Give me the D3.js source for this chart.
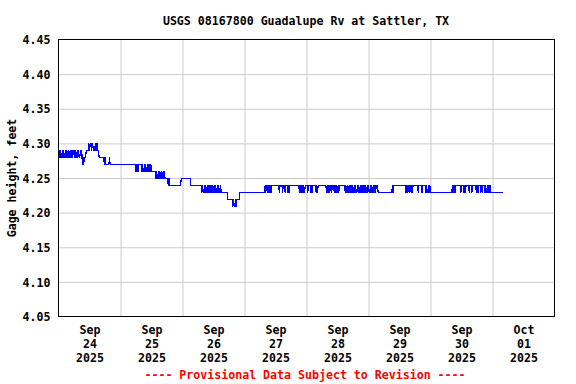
<!DOCTYPE html>
<html><head><meta charset="utf-8">
<script src="https://cdn.jsdelivr.net/npm/d3@7"></script>
<style>
body{margin:0;background:#fff}
svg{display:block}
text{font-family:"DejaVu Sans Mono","Liberation Mono",monospace;font-weight:bold;font-size:11.6px;fill:#000}
</style>
</head><body>
<svg id="chart" width="576" height="384"></svg>
<script>
// ---- text ----
const chartTitle = "USGS 08167800 Guadalupe Rv at Sattler, TX";
const yAxisTitle = "Gage height, feet";
const footerNote = "---- Provisional Data Subject to Revision ----";

// ---- axes ----
const yTickValues = [4.05, 4.10, 4.15, 4.20, 4.25, 4.30, 4.35, 4.40, 4.45];
const yDomain = [4.05, 4.45];
const dayMonths = ["Sep", "Sep", "Sep", "Sep", "Sep", "Sep", "Sep", "Oct"];
const dayNumbers = ["24", "25", "26", "27", "28", "29", "30", "01"];
const dayYears = ["2025", "2025", "2025", "2025", "2025", "2025", "2025", "2025"];
const dayStartsUTC = [[2025,8,24],[2025,8,25],[2025,8,26],[2025,8,27],[2025,8,28],[2025,8,29],[2025,8,30],[2025,9,1],[2025,9,2]];

// ---- series: 15-minute gage readings, run-length [level (ft), number of readings] ----
const readingStart = [2025, 8, 24, 0, 0];
const readingMinutes = 15;
const gageRuns = [
  [4.29,2],
  [4.28,1],[4.29,1],[4.28,2],[4.29,1],[4.28,1],[4.29,1],[4.28,2],[4.29,1],[4.28,1],[4.29,1],[4.28,2],[4.29,1],[4.28,1],[4.29,1],[4.28,2],[4.29,1],[4.28,1],
  [4.29,2],
  [4.28,1],[4.29,1],[4.28,2],[4.29,1],[4.28,1],[4.29,1],[4.28,2],[4.29,1],
  [4.29,2],
  [4.27,1],[4.28,1],[4.27,1],[4.28,3],[4.29,4],
  [4.30,1],[4.29,1],[4.30,2],[4.29,1],[4.30,2],[4.29,1],
  [4.29,2],
  [4.30,1],[4.29,1],[4.30,2],
  [4.29,2],[4.28,8],[4.27,1],[4.28,1],[4.27,6],[4.28,1],[4.27,40],
  [4.26,1],[4.27,2],[4.26,1],[4.27,5],
  [4.26,1],[4.27,1],[4.26,2],[4.27,1],[4.26,1],[4.27,1],[4.26,2],[4.27,1],[4.26,1],[4.27,1],[4.26,2],[4.27,1],[4.26,1],
  [4.26,6],
  [4.25,1],[4.26,1],[4.25,2],[4.26,1],[4.25,1],[4.26,1],[4.25,2],[4.26,1],[4.25,2],[4.26,1],
  [4.26,1],[4.25,5],[4.24,1],[4.25,1],[4.24,18],[4.25,15],[4.24,17],
  [4.23,1],[4.24,1],[4.23,2],[4.24,1],[4.23,1],[4.24,1],[4.23,2],[4.24,1],[4.23,1],[4.24,1],[4.23,2],[4.24,1],
  [4.23,1],[4.24,1],[4.23,2],[4.24,1],[4.23,1],[4.24,1],[4.23,2],[4.24,1],[4.23,1],[4.24,1],[4.23,2],[4.24,1],[4.23,1],
  [4.23,9],[4.22,8],
  [4.21,1],[4.22,1],[4.21,2],[4.22,1],[4.21,1],
  [4.22,5],[4.23,39],
  [4.24,1],[4.23,1],[4.24,2],[4.23,1],[4.24,1],[4.23,1],[4.24,2],[4.23,1],[4.24,1],
  [4.24,11],[4.23,1],[4.24,4],[4.23,1],[4.24,3],[4.23,1],[4.24,3],[4.23,1],[4.24,1],[4.23,1],[4.24,15],
  [4.23,1],[4.24,1],[4.23,2],[4.24,1],[4.23,1],[4.24,1],[4.23,2],[4.24,1],
  [4.24,3],[4.23,1],[4.24,4],[4.23,1],[4.24,1],[4.23,1],[4.24,5],[4.23,1],[4.24,1],[4.23,1],[4.24,13],
  [4.23,1],[4.24,1],[4.23,2],[4.24,1],[4.23,1],
  [4.24,2],[4.23,1],[4.24,3],
  [4.23,1],[4.24,1],[4.23,2],[4.24,1],[4.23,1],[4.24,1],[4.23,1],[4.24,1],
  [4.24,8],
  [4.23,1],[4.24,1],[4.23,2],[4.24,1],[4.23,1],[4.24,1],[4.23,2],[4.24,1],[4.23,1],[4.24,1],[4.23,2],[4.24,1],
  [4.23,1],[4.24,1],[4.23,2],[4.24,1],[4.23,1],[4.24,1],[4.23,2],[4.24,1],[4.23,1],[4.24,1],[4.23,2],[4.24,1],
  [4.23,1],[4.24,1],[4.23,2],[4.24,1],[4.23,1],[4.24,1],[4.23,2],[4.24,1],[4.23,1],[4.24,1],[4.23,2],[4.24,1],
  [4.23,1],[4.24,1],[4.23,1],
  [4.24,3],[4.23,22],
  [4.24,1],[4.23,1],[4.24,2],
  [4.24,17],[4.23,1],[4.24,2],[4.23,1],[4.24,1],[4.23,1],[4.24,2],[4.23,1],[4.24,1],[4.23,1],[4.24,8],[4.23,1],[4.24,5],[4.23,1],[4.24,5],
  [4.23,1],[4.24,1],[4.23,2],[4.24,1],[4.23,1],
  [4.24,1],[4.23,34],
  [4.24,1],[4.23,1],[4.24,2],[4.23,1],[4.24,1],
  [4.24,7],[4.23,1],[4.24,4],[4.23,1],[4.24,1],[4.23,1],[4.24,5],[4.23,1],[4.24,3],[4.23,1],[4.24,6],
  [4.23,1],[4.24,1],[4.23,2],[4.24,1],
  [4.24,2],[4.23,1],[4.24,1],[4.23,1],[4.24,3],
  [4.23,1],[4.24,1],[4.23,2],[4.24,1],[4.23,1],[4.24,1],[4.23,1],
  [4.24,1],[4.23,21]
];

// ---- build readings ----
const t0 = Date.UTC(...readingStart);
const readings = [];
let k = 0;
gageRuns.forEach(([lvl, n]) => {
  for (let i = 0; i < n; i++) {
    readings.push({t: new Date(t0 + k * readingMinutes * 60000), v: lvl});
    k++;
  }
});

// ---- layout ----
const plot = {left: 58.5, right: 554.5, top: 39.5, bottom: 316.5};
const svg = d3.select("#chart");
svg.append("rect").attr("width", 576).attr("height", 384).attr("fill", "#fff");

const dayStarts = dayStartsUTC.map(d => new Date(Date.UTC(...d)));
const x = d3.scaleUtc().domain([dayStarts[0], dayStarts[dayStarts.length - 1]]).range([plot.left, plot.right]);
const y = d3.scaleLinear().domain(yDomain).range([plot.bottom, plot.top]);

// grid
const g = svg.append("g");
g.append("g").attr("transform", `translate(0,${plot.bottom})`)
  .call(d3.axisBottom(x).tickValues(dayStarts.slice(1, -1)).tickSize(-(plot.bottom - plot.top)).tickFormat(""))
  .call(s => s.select(".domain").remove())
  .call(s => s.selectAll("line").attr("stroke", "#cccccc").attr("stroke-width", 1)
    .attr("transform", function(){ return null; }));
g.append("g").attr("transform", `translate(${plot.left},0)`)
  .call(d3.axisLeft(y).tickValues(yTickValues.slice(1, -1)).tickSize(-(plot.right - plot.left)).tickFormat(""))
  .call(s => s.select(".domain").remove())
  .call(s => s.selectAll("line").attr("stroke", "#cccccc").attr("stroke-width", 1));

// data line
const line = d3.line().x(d => x(d.t)).y(d => Math.round(y(d.v)) + 0.5);
svg.append("path").datum(readings)
  .attr("d", line).attr("fill", "none").attr("stroke", "#0000ff").attr("stroke-width", 1.2)
  .attr("shape-rendering", "crispEdges");

// frame
svg.append("rect").attr("x", plot.left).attr("y", plot.top)
  .attr("width", plot.right - plot.left).attr("height", plot.bottom - plot.top)
  .attr("fill", "none").attr("stroke", "#000").attr("stroke-width", 1);

// y tick labels
const yAx = svg.append("g").attr("transform", `translate(${plot.left},0)`)
  .call(d3.axisLeft(y).tickValues(yTickValues).tickSize(0).tickPadding(8).tickFormat(d3.format(".2f")));
yAx.select(".domain").remove();
yAx.selectAll("text").attr("font-family", null).attr("font-size", null).attr("fill", "#000").attr("dy", "0.36em");

// x tick labels (noon of each day)
const noons = dayStarts.slice(0, -1).map(d => new Date(d.getTime() + 12 * 3600000));
const xAx = svg.append("g").attr("transform", `translate(0,${plot.bottom})`)
  .call(d3.axisBottom(x).tickValues(noons).tickSize(0).tickFormat(""));
xAx.select(".domain").remove();
xAx.selectAll(".tick text").each(function(d, i) {
  const t = d3.select(this).attr("font-family", null).attr("font-size", null).attr("fill", "#000").attr("y", 0).attr("dy", null);
  t.append("tspan").attr("x", 0).attr("y", 17).text(dayMonths[i]);
  t.append("tspan").attr("x", 0).attr("y", 31).text(dayNumbers[i]);
  t.append("tspan").attr("x", 0).attr("y", 45).text(dayYears[i]);
});

// title
svg.append("text").attr("x", 306).attr("y", 25).attr("text-anchor", "middle").text(chartTitle);
// y title
svg.append("text").attr("transform", `translate(16,${(plot.top + plot.bottom) / 2}) rotate(-90)`)
  .attr("text-anchor", "middle").text(yAxisTitle);
// footer
svg.append("text").attr("x", 305).attr("y", 379).attr("text-anchor", "middle").attr("fill", "#ff0000")
  .style("fill", "#ff0000").text(footerNote);
</script>
</body></html>
